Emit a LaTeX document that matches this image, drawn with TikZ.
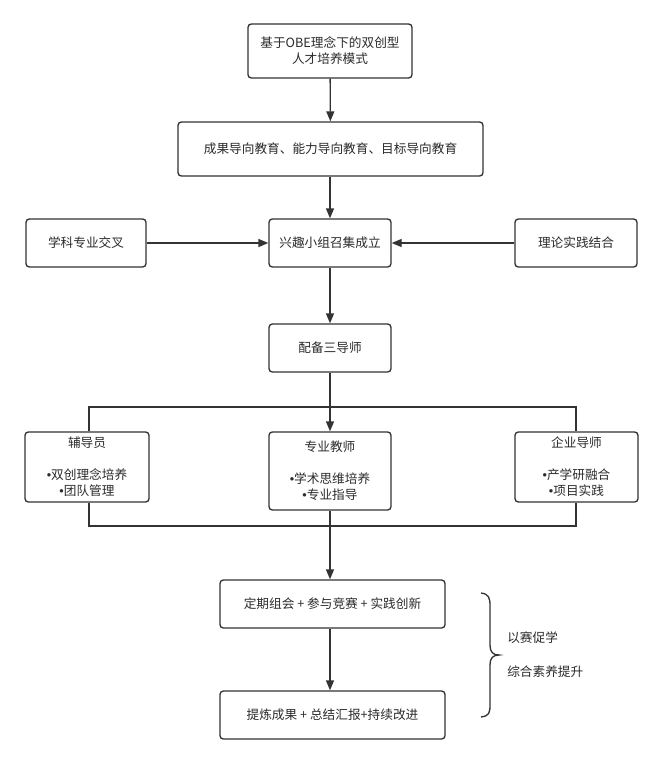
\documentclass[tikz,border=0pt]{standalone}
\usepackage{fontspec}
\setmainfont{Noto Sans CJK SC}
\newfontfamily\bulletfont{Liberation Sans}
\newcommand{\bl}{{\bulletfont •}}
\usetikzlibrary{arrows.meta}
\definecolor{linec}{HTML}{333333}
\definecolor{textc}{HTML}{2B2B2B}
\begin{document}
\begin{tikzpicture}[x=0.75pt,y=-0.75pt,
  box/.style={draw=linec, line width=1pt, rounded corners=2.5pt, align=center, inner sep=0pt,
    font=\fontsize{9.5}{12}\selectfont, text=textc},
  conn/.style={draw=linec, line width=1pt, -{Triangle[length=7.5pt,width=6pt]}},
  plain/.style={draw=linec, line width=1pt},
  lbl/.style={font=\fontsize{9.5}{12}\selectfont, text=textc, anchor=west, inner sep=0pt}]
\useasboundingbox[fill=white] (0,0) rectangle (664,764);

\node[box, minimum width=123pt, minimum height=40.5pt] (top) at (330,51) {基于OBE理念下的双创型\\人才培养模式};
\node[box, minimum width=228.75pt, minimum height=40.5pt] (obe) at (330.5,149) {成果导向教育、能力导向教育、目标导向教育};
\node[box, minimum width=90pt, minimum height=36pt] (xk) at (86,243) {学科专业交叉};
\node[box, minimum width=91.5pt, minimum height=36pt] (xq) at (330,243) {兴趣小组召集成立};
\node[box, minimum width=91.5pt, minimum height=36pt] (ll) at (576,243) {理论实践结合};
\node[box, minimum width=91.5pt, minimum height=36pt] (pb) at (330,348) {配备三导师};
\node[box, minimum width=93pt, minimum height=52.5pt] (fdy) at (87,467) {辅导员\\[12pt]\bl 双创理念培养\\\bl 团队管理};
\node[box, minimum width=91.5pt, minimum height=58.5pt] (zyjs) at (330,471) {专业教师\\[12pt]\bl 学术思维培养\\\bl 专业指导};
\node[box, minimum width=92.25pt, minimum height=52.5pt] (qyds) at (576.5,467) {企业导师\\[12pt]\bl 产学研融合\\\bl 项目实践};
\node[box, minimum width=168.75pt, minimum height=36pt] (dq) at (332.5,604) {定期组会 + 参与竞赛 + 实践创新};
\node[box, minimum width=168.75pt, minimum height=36pt] (tl) at (332.5,715) {提炼成果 + 总结汇报+持续改进};

\draw[conn] (top) -- (obe);
\draw[conn] (obe.south -| xq) -- (xq);
\draw[conn] (xk) -- (xq);
\draw[conn] (ll) -- (xq);
\draw[conn] (xq) -- (pb);
\draw[conn] (pb) -- (zyjs);
\draw[conn] (zyjs.south) -- (zyjs.south |- dq.north);
\draw[conn] (dq.south -| zyjs) -- (tl.north -| zyjs);

\coordinate (tl1) at (89,407);
\coordinate (tr1) at (576,407);
\coordinate (bl1) at (89,526);
\coordinate (br1) at (576,526);
\draw[plain] (fdy.north -| tl1) -- (tl1) -- (tr1) -- (qyds.north -| tr1);
\draw[plain] (fdy.south -| bl1) -- (bl1) -- (br1) -- (qyds.south -| br1);

\draw[plain] (481,593) .. controls (489,594) and (490,598) .. (490,606) -- (490,645)
  .. controls (490,652) and (493,655) .. (499,655)
  .. controls (493,655) and (490,658) .. (490,665) -- (490,705)
  .. controls (490,713) and (489,716) .. (481,717);

\node[lbl] (ysc) at (507,638) {以赛促学};
\node[lbl] (zhs) at (507,672) {综合素养提升};
\end{tikzpicture}
\end{document}
